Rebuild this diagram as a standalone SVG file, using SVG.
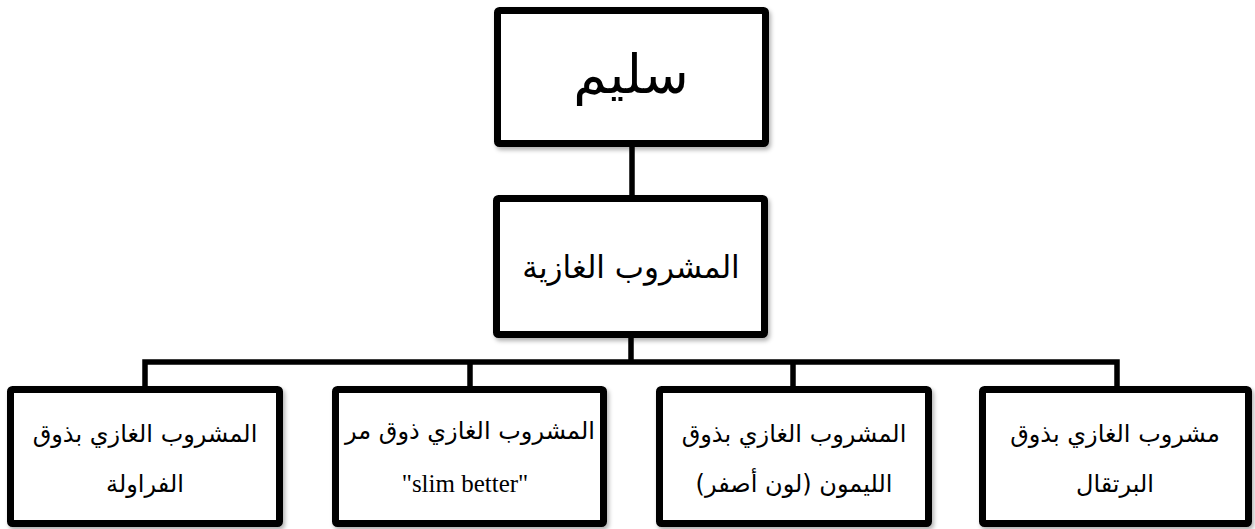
<svg xmlns="http://www.w3.org/2000/svg" width="1255" height="529" viewBox="0 0 1255 529">
<style>
.box{fill:#fff;stroke:#000;stroke-width:7;filter:url(#sh)}
.ar{font-family:"DejaVu Sans",sans-serif;fill:#000;text-anchor:middle;direction:rtl}
.en{font-family:"Liberation Serif",serif;fill:#000;text-anchor:middle}
.conn{stroke:#000;stroke-width:5.5;fill:none}
</style>
<defs>
<filter id="sh" x="-10%" y="-10%" width="120%" height="120%">
<feDropShadow dx="2" dy="3" stdDeviation="2" flood-color="#000" flood-opacity="0.3"/>
</filter>
</defs>
<rect width="1255" height="529" fill="#fff"/>
<g id="connectors">
<path class="conn" d="M632 147 V196"/>
<path class="conn" d="M631 338 V362"/>
<path class="conn" d="M145 388 V362 H1117 V388"/>
<path class="conn" d="M470 362 V388"/>
<path class="conn" d="M793 362 V388"/>
</g>
<g id="node-salim">
<rect class="box" x="497.5" y="10.5" width="268" height="133" rx="2"/>
<text class="ar" x="631" y="93" font-size="54">سليم</text>
</g>
<g id="node-soft-drink">
<rect class="box" x="496.5" y="198.5" width="268" height="136" rx="2"/>
<text class="ar" x="631" y="278" font-size="31">المشروب الغازية</text>
</g>
<g id="node-strawberry">
<rect class="box" x="10.5" y="389.5" width="269" height="134" rx="2"/>
<text class="ar" x="145" y="442" font-size="24">المشروب الغازي بذوق</text>
<text class="ar" x="145" y="492" font-size="24">الفراولة</text>
</g>
<g id="node-bitter">
<rect class="box" x="335.5" y="389.5" width="268" height="134" rx="2"/>
<text class="ar" x="470" y="439" font-size="24">المشروب الغازي ذوق مر</text>
<text class="en" x="465" y="492" font-size="25">"slim better"</text>
</g>
<g id="node-lemon">
<rect class="box" x="659.5" y="389.5" width="269" height="134" rx="2"/>
<text class="ar" x="794" y="442" font-size="24">المشروب الغازي بذوق</text>
<text class="ar" x="794" y="492" font-size="24">الليمون (لون أصفر)</text>
</g>
<g id="node-orange">
<rect class="box" x="982.5" y="389.5" width="266" height="134" rx="2"/>
<text class="ar" x="1115" y="442" font-size="24">مشروب الغازي بذوق</text>
<text class="ar" x="1115" y="492" font-size="24">البرتقال</text>
</g>
</svg>
